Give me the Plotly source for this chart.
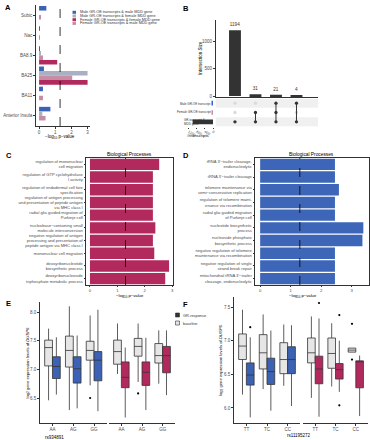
import plotly.graph_objects as go

W, H = 370, 440
def fx(p): return p / W
def fy(p): return 1 - p / H

FONT = "Liberation Sans, Arial, sans-serif"
BLUE = "#3b62b4"
GREYBAR = "#a9b0c2"
CRIMSON = "#b22a5d"
PINK = "#c68ca3"
DARK = "#333333"
BOXGREY = "#e6e6e6"
TICKC = "#4d4d4d"
SIG = 1.3  # -log10(0.05)

# ---------------- Panel A data ----------------
regions = ["Subic", "Nac", "BA8.9", "BA25", "BA11", "Anterior Insula"]
male_male = [0.45, 0.03, 0.03, 0.30, 0.24, 0.70]
male_female = [0.0, 0.0, 0.06, 3.00, 0.0, 0.20]
female_male = [0.10, 0.03, 0.24, 2.05, 0.24, 0.40]
female_female = [0.0, 0.0, 1.12, 3.00, 0.0, 0.0]
a_legend = ["Male GR-OE transcripts & male MDD gene",
            "Male GR-OE transcripts & female MDD gene",
            "Female GR-OE transcripts & female MDD gene",
            "Female GR-OE transcripts & male MDD gene"]

# ---------------- Panel B data ----------------
inter_sizes = [1194, 31, 21, 4]
inter_members = [[2], [1, 2], [0, 1, 2], [0, 2]]
set_names = ["Male GR-OE transcript", "Female GR-OE transcript", "GR-transcript &<br>MDD gene"]
set_sizes = [25, 52, 1000]

# ---------------- Panel C data ----------------
c_terms = ["regulation of mononuclear<br>cell migration",
           "regulation of GTP cyclohydrolase<br>I activity",
           "regulation of endodermal cell fate<br>specification",
           "regulation of antigen processing<br>and presentation of peptide antigen<br>via MHC class I",
           "radial glia guided migration of<br>Purkinje cell",
           "nucleobase−containing small<br>molecule interconversion",
           "negative regulation of antigen<br>processing and presentation of<br>peptide antigen via MHC class I",
           "mononuclear cell migration",
           "deoxyribonucleotide<br>biosynthetic process",
           "deoxyribonucleoside<br>triphosphate metabolic process"]
c_values = [2.53, 2.30, 2.30, 2.30, 2.30, 2.39, 2.30, 2.35, 2.89, 2.75]

# ---------------- Panel D data ----------------
d_terms = ["tRNA 3'−trailer cleavage,<br>endonucleolytic",
           "tRNA 3'−trailer cleavage",
           "telomere maintenance via<br>semi−conservative replication",
           "regulation of telomere maint-<br>enance via recombination",
           "radial glia guided migration<br>of Purkinje cell",
           "nucleotide biosynthetic<br>process",
           "nucleoside phosphate<br>biosynthetic process",
           "negative regulation of telomere<br>maintenance via recombination",
           "negative regulation of single<br>strand break repair",
           "mitochondrial tRNA 3'−trailer<br>cleavage, endonucleolytic"]
d_values = [2.45, 2.45, 2.58, 2.45, 2.45, 3.38, 3.35, 2.45, 2.45, 2.45]

# ---------------- Panel E data (rs934891) ----------------
e_geno = ["AA", "AG", "GG"]
e_m_base = dict(lo=[6.46, 6.29, 6.72], q1=[7.06, 7.04, 7.16], med=[7.38, 7.33, 7.33], q3=[7.51, 7.58, 7.49], hi=[7.71, 8.10, 7.94])
e_m_base_out = (["GG"], [6.50])
e_m_gr = dict(lo=[6.56, 6.32, 6.27], q1=[6.84, 6.76, 6.80], med=[7.05, 7.01, 7.16], q3=[7.22, 7.22, 7.31], hi=[7.56, 7.59, 8.04])
e_m_gr_out = ([], [])
e_f_base = dict(lo=[6.92, 6.78, 6.75], q1=[7.09, 7.23, 7.11], med=[7.31, 7.40, 7.24], q3=[7.51, 7.54, 7.45], hi=[7.80, 7.80, 7.68])
e_f_base_out = (["AG"], [6.58])
e_f_gr = dict(lo=[6.16, 6.29, 6.55], q1=[6.68, 6.72, 6.94], med=[6.86, 6.95, 7.24], q3=[7.13, 7.13, 7.40], hi=[7.38, 7.55, 7.68])
e_f_gr_out = ([], [])

# ---------------- Panel F data (rs11195272) ----------------
f_geno = ["TT", "TC", "CC"]
f_m_base = dict(lo=[6.20, 6.28, 6.33], q1=[6.72, 6.58, 6.51], med=[6.92, 6.82, 6.72], q3=[7.10, 7.09, 6.97], hi=[7.46, 7.39, 7.24])
f_m_base_out = ([], [])
f_m_gr = dict(lo=[5.86, 5.96, 6.03], q1=[6.34, 6.35, 6.51], med=[6.49, 6.54, 6.72], q3=[6.67, 6.74, 6.91], hi=[7.05, 7.15, 7.23])
f_m_gr_out = (["TT"], [7.20])
f_f_base = dict(lo=[6.15, 6.32, 6.83], q1=[6.67, 6.59, 6.83], med=[6.82, 6.81, 6.86], q3=[7.04, 7.04, 6.89], hi=[7.36, 7.26, 6.89])
f_f_base_out = (["CC", "CC"], [7.25, 6.72])
f_f_gr = dict(lo=[5.87, 6.24, 5.88], q1=[6.36, 6.43, 6.30], med=[6.58, 6.57, 6.69], q3=[6.77, 6.66, 6.70], hi=[7.33, 7.00, 6.78])
f_f_gr_out = (["TT", "TC", "TC"], [7.56, 7.38, 6.04])

fig = go.Figure()

# ---- A bars (top to bottom order within group) ----
for vals, col in [(male_male, BLUE), (male_female, GREYBAR), (female_male, PINK), (female_female, CRIMSON)]:
    fig.add_trace(go.Bar(y=regions, x=vals, orientation="h", marker=dict(color=col, line=dict(width=0)),
                         xaxis="x", yaxis="y", hoverinfo="skip"))

# ---- B intersection bars ----
cols_idx = list(range(1, len(inter_sizes) + 1))
fig.add_trace(go.Bar(x=cols_idx, y=inter_sizes, width=0.58, marker=dict(color=DARK, line=dict(width=0)),
                     text=[str(v) for v in inter_sizes], textposition="outside",
                     textfont=dict(size=4.6, color=DARK, family=FONT),
                     outsidetextfont=dict(size=4.6, color=DARK, family=FONT),
                     constraintext="none", cliponaxis=False,
                     xaxis="x2", yaxis="y2"))
# matrix dots and connecting lines
ix, iy, ax_, ay_ = [], [], [], []
lx, ly = [], []
for c, mem in zip(cols_idx, inter_members):
    for r in range(len(set_names)):
        if r in mem:
            ax_.append(c); ay_.append(r)
        else:
            ix.append(c); iy.append(r)
    if len(mem) > 1:
        lx += [c, c, None]; ly += [min(mem), max(mem), None]
fig.add_trace(go.Scatter(x=ix, y=iy, mode="markers", marker=dict(color="#dadada", size=3.3),
                         xaxis="x3", yaxis="y3"))
fig.add_trace(go.Scatter(x=lx, y=ly, mode="lines", line=dict(color=DARK, width=1),
                         xaxis="x3", yaxis="y3"))
fig.add_trace(go.Scatter(x=ax_, y=ay_, mode="markers", marker=dict(color=DARK, size=3.3),
                         xaxis="x3", yaxis="y3"))
# set size bars
fig.add_trace(go.Bar(y=list(range(len(set_names))), x=set_sizes, orientation="h", width=0.5,
                     marker=dict(color=[BLUE, PINK, DARK], line=dict(width=0)),
                     xaxis="x4", yaxis="y4"))

# ---- C / D bars ----
fig.add_trace(go.Bar(y=c_terms, x=c_values, orientation="h", width=0.9,
                     marker=dict(color=CRIMSON, line=dict(width=0)), xaxis="x5", yaxis="y5"))
fig.add_trace(go.Bar(y=d_terms, x=d_values, orientation="h", width=0.9,
                     marker=dict(color="#3d66b8", line=dict(width=0)), xaxis="x6", yaxis="y6"))

# ---- E / F boxes ----
def add_box(cats, st, out, color, grp, xa, ya):
    fig.add_trace(go.Box(x=cats, q1=st["q1"], median=st["med"], q3=st["q3"],
                         lowerfence=st["lo"], upperfence=st["hi"],
                         fillcolor=color, line=dict(color=DARK, width=0.8), whiskerwidth=0,
                         boxpoints=False, offsetgroup=grp, alignmentgroup=xa,
                         xaxis=xa, yaxis=ya, hoverinfo="skip"))
    if out[0]:
        fig.add_trace(go.Box(x=out[0], y=out[1], boxpoints="all", jitter=0, pointpos=0,
                             fillcolor="rgba(0,0,0,0)", line=dict(color="rgba(0,0,0,0)", width=0),
                             marker=dict(color="black", size=2.2, line=dict(width=0)),
                             whiskerwidth=0, offsetgroup=grp, alignmentgroup=xa,
                             xaxis=xa, yaxis=ya, hoverinfo="skip"))

add_box(e_geno, e_m_base, e_m_base_out, BOXGREY, "base", "x7", "y7")
add_box(e_geno, e_m_gr, e_m_gr_out, BLUE, "gr", "x7", "y7")
add_box(e_geno, e_f_base, e_f_base_out, BOXGREY, "base", "x8", "y8")
add_box(e_geno, e_f_gr, e_f_gr_out, CRIMSON, "gr", "x8", "y8")
add_box(f_geno, f_m_base, f_m_base_out, BOXGREY, "base", "x9", "y9")
add_box(f_geno, f_m_gr, f_m_gr_out, BLUE, "gr", "x9", "y9")
add_box(f_geno, f_f_base, f_f_base_out, BOXGREY, "base", "x10", "y10")
add_box(f_geno, f_f_gr, f_f_gr_out, CRIMSON, "gr", "x10", "y10")

# ---------------- axes ----------------
def axis(domain, anchor, **kw):
    d = dict(domain=domain, anchor=anchor, showgrid=False, zeroline=False,
             showline=True, linecolor=DARK, linewidth=0.8,
             ticks="outside", ticklen=2, tickwidth=0.6, tickcolor=DARK,
             tickfont=dict(size=4.5, color=TICKC, family=FONT))
    d.update(kw)
    return d

hidden = dict(visible=False, showgrid=False, zeroline=False)

layout = dict(
    width=W, height=H, margin=dict(l=0, r=0, t=0, b=0),
    paper_bgcolor="white", plot_bgcolor="white", showlegend=False,
    font=dict(family=FONT, size=5, color=TICKC),
    barmode="group", bargap=0.1, bargroupgap=0,
    boxmode="group", boxgap=0.25, boxgroupgap=0,
    template="none",
)
# A
layout["xaxis"] = axis([fx(36), fx(90)], "y", range=[-0.19, 3.15], tickvals=[0, 1, 2, 3])
layout["yaxis"] = axis([fy(126), fy(5)], "x", type="category", categoryorder="array",
                       categoryarray=regions, autorange="reversed")
# B bars
layout["xaxis2"] = axis([fx(215.7), fx(318)], "y2", range=[0.06, 5.05], showticklabels=False, ticks="")
layout["yaxis2"] = axis([fy(97), fy(20)], "x2", range=[-18, 1382], tickvals=[0, 500, 1000])
# B matrix
layout["xaxis3"] = dict(hidden, domain=[fx(215.7), fx(318)], range=[0.06, 5.05], anchor="y3")
layout["yaxis3"] = dict(hidden, domain=[fy(126.5), fy(98.5)], range=[2.5, -0.5], anchor="x3")
# B set sizes
layout["xaxis4"] = axis([fx(185.5), fx(213)], "y4", range=[1350, 0], tickvals=[1200, 800, 400, 0],
                        tickfont=dict(size=3.6, color=TICKC, family=FONT), showline=False, ticklen=1)
layout["yaxis4"] = dict(hidden, domain=[fy(126.5), fy(98.5)], range=[2.5, -0.5], anchor="x4")
# C
layout["xaxis5"] = axis([fx(86), fx(173)], "y5", range=[-0.1445, 3.0345], tickvals=[0, 1, 2, 3], mirror=True,
                        tickfont=dict(size=4.2, color=TICKC, family=FONT), ticklen=1.5)
layout["yaxis5"] = axis([fy(285), fy(158)], "x5", type="category", categoryorder="array",
                        categoryarray=c_terms, autorange="reversed", mirror=True, ticklen=1.5,
                        tickfont=dict(size=4.1, color=TICKC, family=FONT))
# D
layout["xaxis6"] = axis([fx(255), fx(368.5)], "y6", range=[-0.169, 3.549], tickvals=[0, 1, 2, 3], mirror=True,
                        tickfont=dict(size=4.2, color=TICKC, family=FONT), ticklen=1.5)
layout["yaxis6"] = axis([fy(285), fy(158)], "x6", type="category", categoryorder="array",
                        categoryarray=d_terms, autorange="reversed", mirror=True, ticklen=1.5,
                        tickfont=dict(size=4.1, color=TICKC, family=FONT))
# E
layout["xaxis7"] = axis([fx(40), fx(106.5)], "y7", type="category", categoryorder="array",
                        categoryarray=e_geno, range=[-0.6, 2.6])
layout["yaxis7"] = axis([fy(423), fy(302)], "x7", range=[6.064, 8.175], tickvals=[6.5, 7.0, 7.5, 8.0],
                        tickformat=".1f")
layout["xaxis8"] = axis([fx(109), fx(175)], "y8", type="category", categoryorder="array",
                        categoryarray=e_geno, range=[-0.6, 2.6])
layout["yaxis8"] = dict(hidden, domain=[fy(423), fy(302)], range=[6.064, 8.175], anchor="x8")
# F
layout["xaxis9"] = axis([fx(234), fx(300)], "y9", type="category", categoryorder="array",
                        categoryarray=f_geno, range=[-0.6, 2.6])
layout["yaxis9"] = axis([fy(423), fy(297)], "x9", range=[5.777, 7.649], tickvals=[6.0, 6.5, 7.0, 7.5],
                        tickformat=".1f")
layout["xaxis10"] = axis([fx(303), fx(368)], "y10", type="category", categoryorder="array",
                         categoryarray=f_geno, range=[-0.6, 2.6])
layout["yaxis10"] = dict(hidden, domain=[fy(423), fy(297)], range=[5.777, 7.649], anchor="x10")

fig.update_layout(**layout)

# ---------------- shapes ----------------
shapes = []
for xr, yr in [("x", "y domain"), ("x5", "y5 domain"), ("x6", "y6 domain")]:
    shapes.append(dict(type="line", xref=xr, yref=yr, x0=SIG, x1=SIG, y0=0, y1=1,
                       line=dict(color="black", width=0.8, dash="dash"), layer="above"))
# upset matrix stripes (rows 1 and 3)
for r in (0, 2):
    shapes.append(dict(type="rect", xref="x3 domain", yref="y3", x0=0, x1=1, y0=r - 0.5, y1=r + 0.5,
                       fillcolor="#f0f0f0", line=dict(width=0), layer="below"))
# legend swatches A
a_cols = [BLUE, GREYBAR, CRIMSON, PINK]
a_rows = [12.3, 16.0, 19.7, 23.4]
for c, yy in zip(a_cols, a_rows):
    shapes.append(dict(type="rect", xref="paper", yref="paper", x0=fx(72.5), x1=fx(76), y0=fy(yy + 1.5),
                       y1=fy(yy - 1.5), fillcolor=c, line=dict(width=0)))
# legend swatches E/F
ef_leg = [("GR-response", DARK, 315), ("baseline", BOXGREY, 323)]
for name, c, yy in ef_leg:
    shapes.append(dict(type="rect", xref="paper", yref="paper", x0=fx(175.5), x1=fx(179.5), y0=fy(yy + 2),
                       y1=fy(yy - 2), fillcolor=c, line=dict(width=0.6, color=DARK)))
fig.update_layout(shapes=shapes)

# ---------------- annotations ----------------
ann = []
def note(text, x, y, size=4.5, color="black", xanchor="center", yanchor="middle", angle=0, align="center"):
    ann.append(dict(text=text, x=fx(x), y=fy(y), xref="paper", yref="paper", showarrow=False,
                    xanchor=xanchor, yanchor=yanchor, textangle=angle, align=align,
                    font=dict(size=size, color=color, family=FONT)))

for letter, x, y in [("A", 3, 1), ("B", 181, 2), ("C", 4, 149), ("D", 181, 149), ("E", 4, 297), ("F", 181, 298)]:
    note("<b>%s</b>" % letter, x, y, size=7.5, xanchor="left", yanchor="top")

for t, yy in zip(a_legend, a_rows):
    note(t, 77.5, yy, size=3.8, color=DARK, xanchor="left")
note("−log<sub>10</sub> p−value", 60, 137, size=4.5)

note("Intersection Size", 200, 58, size=4.5, angle=-90)
note(set_names[0], 212.5, 103.5, size=3.0, color=DARK, xanchor="right")
note(set_names[1], 212.5, 112.5, size=3.0, color=DARK, xanchor="right")
note(set_names[2], 182, 121.5, size=3.0, color=DARK, xanchor="left", align="left")
note("#transcripts", 198, 135, size=4.2)

note("Biological Processes", 129.5, 154.5, size=4.8)
note("Biological Processes", 311.5, 154.5, size=4.8)
note("−log<sub>10</sub> p−value", 130, 295.5, size=4.2)
note("−log<sub>10</sub> p−value", 303, 295.5, size=4.2)

for name, c, yy in ef_leg:
    note(name, 181, yy, size=3.9, color=DARK, xanchor="left")

ylab = "log<sub>2</sub> gene expression levels of <i>DUSP6</i>"
note(ylab, 27.5, 363, size=4.2, angle=-90)
note(ylab, 221, 361, size=4.2, angle=-90)
note("rs934891", 54, 437, size=4.5)
note("rs11195272", 299, 435, size=4.5)

fig.update_layout(annotations=ann)

fig.write_html("out.html", config={"displayModeBar": False},
               post_script="document.body.style.margin='0';")
